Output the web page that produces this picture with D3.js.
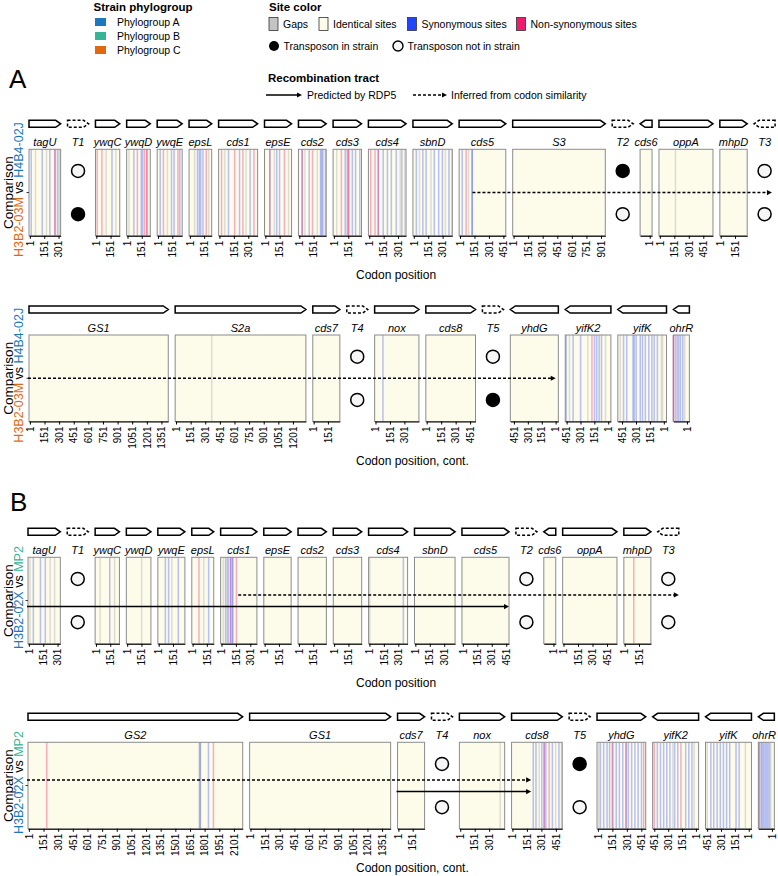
<!DOCTYPE html>
<html>
<head>
<meta charset="utf-8">
<script src="https://cdn.jsdelivr.net/npm/d3@7"></script>
<style>
  body { margin: 0; background: #fff; }
  svg { font-family: "Liberation Sans", Arial, sans-serif; }
</style>
</head>
<body>
<svg id="chart" width="778" height="876"></svg>
<script>
// ---- data (lengths in codons, 0 = transposon slot) ----
var rowA1Genes = ['tagU', 'T1', 'ywqC', 'ywqD', 'ywqE', 'epsL', 'cds1', 'epsE', 'cds2', 'cds3', 'cds4', 'sbnD', 'cds5', 'S3', 'T2', 'cds6', 'oppA', 'mhpD', 'T3']
var rowA1Lens = [323, 0, 248, 241, 255, 231, 398, 276, 283, 290, 384, 401, 476, 945, 0, 122, 551, 279, 0]
var rowA1Rev = ['cds6']

var rowA2Genes = ['GS1', 'S2a', 'cds7', 'T4', 'nox', 'cds8', 'T5', 'yhdG', 'yifK2', 'yifK', 'ohrR']
var rowA2Lens = [1421, 1334, 276, 0, 452, 507, 0, 490, 466, 497, 163]
var rowA2Rev = ['yhdG', 'yifK2', 'yifK', 'ohrR']

var rowB1Genes = ['tagU', 'T1', 'ywqC', 'ywqD', 'ywqE', 'epsL', 'cds1', 'epsE', 'cds2', 'cds3', 'cds4', 'sbnD', 'cds5', 'T2', 'cds6', 'oppA', 'mhpD', 'T3']
var rowB1Lens = [330, 0, 248, 251, 276, 224, 370, 279, 289, 290, 398, 414, 480, 0, 122, 554, 276, 0]
var rowB1Rev = ['cds6']

var rowB2Genes = ['GS2', 'GS1', 'cds7', 'T4', 'nox', 'cds8', 'T5', 'yhdG', 'yifK2', 'yifK', 'ohrR']
var rowB2Lens = [2191, 1439, 276, 0, 462, 517, 0, 497, 469, 469, 163]
var rowB2Rev = ['yifK2', 'yifK', 'ohrR']

var tnPointLeft = ['T3']

// transposon presence: [upper strain, lower strain]
var tnA1 = { T1: [0, 1], T2: [1, 0], T3: [0, 0] }
var tnA2 = { T4: [0, 0], T5: [0, 1] }
var tnB1 = { T1: [0, 0], T2: [0, 0], T3: [0, 0] }
var tnB2 = { T4: [0, 0], T5: [1, 0] }

// variable sites (codon positions)
var synA1 = { tagU: [15, 130, 210, 265, 290], ywqC: [166], ywqD: [68, 146, 160], ywqE: [24, 143, 170, 230], epsL: [81, 100, 115, 139], cds1: [95, 210, 320], epsE: [48, 120, 150], cds2: [31, 105, 224, 235, 248, 275], cds3: [119, 140, 194, 228, 272], cds4: [95, 146, 190, 231, 282, 340], sbnD: [27, 95, 129, 214, 260, 299, 367], cds5: [24, 126, 128] }
var nonA1 = { tagU: [262], ywqC: [10, 60], ywqD: [105, 180, 204, 207], ywqE: [58, 211], epsL: [173], cds1: [23, 159, 245, 360], epsE: [48, 201], cds2: [31, 139], cds3: [79, 153, 155], cds4: [16, 61, 95], cds5: [64] }
var gapA1 = { tagU: [60, 175, 305, 318], ywqC: [105, 207], ywqD: [16], ywqE: [100], epsL: [50, 200], cds1: [57, 279], epsE: [95, 245], cds2: [60, 190], cds3: [30], cds4: [323, 370], sbnD: [60, 180, 330, 400], cds5: [90], oppA: [163] }

var synA2 = { nox: [78], yifK2: [456, 381, 300, 150, 126, 99, 74], yifK: [435, 401, 333, 320, 299, 255, 231, 200, 163, 130, 105, 70], ohrR: [163, 119, 100, 79, 51] }
var nonA2 = { yifK2: [177], ohrR: [163, 140] }
var gapA2 = { S2a: [367], yifK2: [221, 420, 30], yifK: [27, 15, 470], ohrR: [28] }

var synB1 = { tagU: [48, 122, 173], ywqC: [146], ywqE: [71, 105, 207], epsL: [170], cds1: [44, 71, 95, 112, 120], cds4: [354] }
var nonB1 = { epsL: [68], cds1: [95, 156], mhpD: [96] }
var gapB1 = { tagU: [13, 224, 270], ywqC: [44, 197], ywqD: [153], ywqE: [139], epsL: [119], cds1: [20, 60], cds4: [4] }

var synB2 = { GS2: [1755, 1840], cds8: [217, 245, 306, 330, 347, 415, 483], yhdG: [27, 61, 96, 122, 157, 191, 224, 259, 293, 316, 351, 385, 418, 453], yifK2: [418, 384, 350, 316, 282, 231, 197, 112, 78, 44], yifK: [411, 380, 343, 309, 275, 241, 207, 139, 105], ohrR: [130, 116, 100, 82, 65, 48, 30] }
var nonB2 = { GS2: [184, 1891], cds8: [330, 381], yhdG: [150, 293, 476], yifK2: [452, 163], ohrR: [150, 155] }
var gapB2 = { GS2: [1745, 1750, 1760], nox: [415], cds8: [279, 449, 510], yhdG: [10], yifK2: [20, 250], yifK: [37, 450], ohrR: [14] }

// recombination tracts: [gene, codon] (for transposon slots: fraction of slot)
var tractsA1 = [{ type: 'inferred', from: ['cds5', 130], to: ['T3', 0.85] }]
var tractsA2 = [{ type: 'inferred', from: ['GS1', 0], to: ['yhdG', 0] }]
var tractsB1 = [{ type: 'rdp', from: ['tagU', 0], to: ['cds5', 480] }, { type: 'inferred', from: ['cds1', 175], to: ['T3', 1] }]
var tractsB2 = [{ type: 'inferred', from: ['GS2', 0], to: ['cds8', 195] }, { type: 'rdp', from: ['cds7', 0], to: ['cds8', 195] }]

var phyloNames = ['Phylogroup A', 'Phylogroup B', 'Phylogroup C']
var phyloColors = ['#1a78bd', '#35b596', '#e2680f']
var siteNames = ['Gaps', 'Identical sites', 'Synonymous sites', 'Non-synonymous sites']
var siteColors = ['#c4c4c4', '#fdfbea', '#2145ff', '#ee1c6e']

// ---- drawing ----
var svg = d3.select('#chart')
var k = 0.098
var gap = 6.9
var tnW = 21
var ph = 86.5

function layout (names, lens, rev, x0) {
  var items = []
  var x = x0
  names.forEach(function (n, i) {
    var tn = lens[i] === 0
    var w = tn ? tnW : lens[i] * k
    if (i > 0) x += gap
    var it = { name: n, len: lens[i], tn: tn, x0: x, x1: x + w, rev: rev.indexOf(n) >= 0 }
    if (!tn) {
      // small expansion before codon 1 (wider on reversed panels, as in the figure)
      var pad = it.rev ? 28 : 8
      it.scale = d3.scaleLinear().domain([-pad, lens[i]]).range(it.rev ? [x + w, x] : [x, x + w])
    }
    items.push(it)
    x += w
  })
  return items
}

function arrowPath (x0, x1, y0, h, left) {
  var tip = Math.min(5, (x1 - x0) / 2)
  if (!left) return 'M' + x0 + ',' + y0 + 'H' + (x1 - tip) + 'L' + x1 + ',' + (y0 + h / 2) + 'L' + (x1 - tip) + ',' + (y0 + h) + 'H' + x0 + 'Z'
  return 'M' + x1 + ',' + y0 + 'H' + (x0 + tip) + 'L' + x0 + ',' + (y0 + h / 2) + 'L' + (x0 + tip) + ',' + (y0 + h) + 'H' + x1 + 'Z'
}

function tractLine (g, xa, xb, yy, type) {
  g.append('line')
    .attr('x1', xa).attr('x2', xb - 4).attr('y1', yy).attr('y2', yy)
    .attr('stroke', '#000').attr('stroke-width', 1.5)
    .attr('stroke-dasharray', type === 'inferred' ? '3,2' : null)
  g.append('path')
    .attr('d', 'M' + xb + ',' + yy + 'L' + (xb - 5) + ',' + (yy - 2.6) + 'L' + (xb - 5) + ',' + (yy + 2.6) + 'Z')
    .attr('fill', '#000')
}

function drawRow (cfg) {
  var g = svg.append('g')
  var items = layout(cfg.genes, cfg.lens, cfg.rev, cfg.x0)
  var top = cfg.top
  var y = d3.scaleLinear().domain([0, 1]).range([top + ph, top])

  items.forEach(function (it) {
    var cx = (it.x0 + it.x1) / 2
    var left = it.tn ? tnPointLeft.indexOf(it.name) >= 0 : it.rev
    g.append('path')
      .attr('d', arrowPath(it.x0, it.x1, top - 29, 7, left))
      .attr('fill', '#fff').attr('stroke', '#000').attr('stroke-width', 1.5)
      .attr('stroke-dasharray', it.tn ? '3,2' : null)
    var lab = g.append('text')
      .attr('x', cx).attr('y', top - 3)
      .attr('text-anchor', 'middle')
      .style('font-style', 'italic').style('font-size', '11px')
      .text(it.name)
    var lw = lab.node().getComputedTextLength()
    if (cx + lw / 2 > 776) lab.attr('x', 776 - lw / 2)

    if (it.tn) {
      var pres = cfg.tn[it.name];
      [0.75, 0.25].forEach(function (v, j) {
        g.append('circle')
          .attr('cx', cx).attr('cy', y(v)).attr('r', 6.5)
          .attr('fill', pres[j] ? '#000' : '#f6f6f6')
          .attr('stroke', '#000').attr('stroke-width', 1.5)
      })
      return
    }

    g.append('rect')
      .attr('x', it.x0).attr('y', top)
      .attr('width', it.x1 - it.x0).attr('height', ph)
      .attr('fill', siteColors[1])

    var sets = [[cfg.gaps, '#b0b0b0', 0.4], [cfg.syn, siteColors[2], 0.32], [cfg.non, siteColors[3], 0.35]]
    sets.forEach(function (s) {
      var list = s[0][it.name] || []
      g.selectAll(null).data(list).enter().append('rect')
        .attr('x', function (d) { return it.scale(d) - 0.75 })
        .attr('y', top).attr('width', 1.5).attr('height', ph)
        .attr('fill', s[1]).attr('opacity', s[2])
    })

    g.append('rect')
      .attr('x', it.x0).attr('y', top)
      .attr('width', it.x1 - it.x0).attr('height', ph)
      .attr('fill', 'none').attr('stroke', '#8c8c8c').attr('stroke-width', 1)

    var ticks = d3.range(1, it.len - 14, 150)
    var ax = g.append('g')
      .attr('transform', 'translate(0,' + (top + ph) + ')')
      .call(d3.axisBottom(it.scale).tickValues(ticks).tickSize(3).tickSizeOuter(0).tickFormat(d3.format('d')))
    ax.attr('font-family', null).attr('font-size', 10)
    ax.select('.domain').attr('stroke', '#000')
    ax.selectAll('text')
      .attr('transform', 'rotate(-90)')
      .attr('x', -5).attr('y', 0).attr('dy', '0.32em')
      .attr('text-anchor', 'end')
      .attr('fill', '#000')
  })

  // small y tick on the first panel
  g.append('line')
    .attr('x1', items[0].x0 - 2.5).attr('x2', items[0].x0)
    .attr('y1', y(0.5)).attr('y2', y(0.5))
    .attr('stroke', '#333').attr('stroke-width', 1)

  function posOf (ref) {
    var it = items.find(function (d) { return d.name === ref[0] })
    if (it.tn) return it.x0 + ref[1] * (it.x1 - it.x0)
    return it.scale(ref[1])
  }
  cfg.tracts.forEach(function (t) {
    var lvl = cfg.tracts.length === 1 ? 0.5 : (t.type === 'inferred' ? 0.565 : 0.43)
    var xa = posOf(t.from)
    var fromItem = items.find(function (d) { return d.name === t.from[0] })
    if (t.from[1] === 0 && !fromItem.rev) xa = fromItem.x0 - 1
    tractLine(g, xa, posOf(t.to), y(lvl), t.type)
  })

  // y axis title
  var midY = top + ph / 2
  g.append('text')
    .attr('transform', 'translate(12.5,' + midY + ') rotate(-90)')
    .attr('text-anchor', 'middle').style('font-size', '13.5px')
    .text('Comparison')
  var t2 = g.append('text')
    .attr('transform', 'translate(23,' + (midY - 3) + ') rotate(-90)')
    .attr('text-anchor', 'middle').style('font-size', '12.5px')
  t2.append('tspan').attr('fill', cfg.strains[0][1]).text(cfg.strains[0][0])
  t2.append('tspan').attr('fill', '#000').text(' vs ')
  t2.append('tspan').attr('fill', cfg.strains[1][1]).text(cfg.strains[1][0])

  // x axis title
  g.append('text')
    .attr('x', 356).attr('y', top + ph + 43)
    .style('font-size', '12px')
    .text(cfg.xTitle)
}

drawRow({ genes: rowA1Genes, lens: rowA1Lens, rev: rowA1Rev, x0: 29, top: 149.3, tn: tnA1, syn: synA1, non: nonA1, gaps: gapA1, tracts: tractsA1, strains: [['H3B2-03M', phyloColors[2]], ['H4B4-02J', phyloColors[0]]], xTitle: 'Codon position' })
drawRow({ genes: rowA2Genes, lens: rowA2Lens, rev: rowA2Rev, x0: 29, top: 335, tn: tnA2, syn: synA2, non: nonA2, gaps: gapA2, tracts: tractsA2, strains: [['H3B2-03M', phyloColors[2]], ['H4B4-02J', phyloColors[0]]], xTitle: 'Codon position, cont.' })
drawRow({ genes: rowB1Genes, lens: rowB1Lens, rev: rowB1Rev, x0: 28, top: 557.3, tn: tnB1, syn: synB1, non: nonB1, gaps: gapB1, tracts: tractsB1, strains: [['H3B2-02X', phyloColors[0]], ['MP2', phyloColors[1]]], xTitle: 'Codon position' })
drawRow({ genes: rowB2Genes, lens: rowB2Lens, rev: rowB2Rev, x0: 28, top: 742.3, tn: tnB2, syn: synB2, non: nonB2, gaps: gapB2, tracts: tractsB2, strains: [['H3B2-02X', phyloColors[0]], ['MP2', phyloColors[1]]], xTitle: 'Codon position, cont.' })

// panel letters
svg.append('text').attr('x', 9).attr('y', 88).style('font-size', '26px').text('A')
svg.append('text').attr('x', 10).attr('y', 511).style('font-size', '26px').text('B')

// ---- legends ----
var lg = svg.append('g').style('font-size', '10.5px')
lg.append('text').attr('x', 93.5).attr('y', 11).style('font-weight', 'bold').style('font-size', '11.5px').text('Strain phylogroup')
phyloNames.forEach(function (n, i) {
  var cy = 22 + i * 14
  lg.append('rect').attr('x', 95).attr('y', cy - 4).attr('width', 11).attr('height', 8).attr('fill', phyloColors[i])
  lg.append('text').attr('x', 117).attr('y', cy).attr('dy', '0.35em').text(n)
})

var siteX = [269, 319, 407.5, 516.5]
lg.append('text').attr('x', 269).attr('y', 11).style('font-weight', 'bold').style('font-size', '11.5px').text('Site color')
siteNames.forEach(function (n, i) {
  lg.append('rect').attr('x', siteX[i]).attr('y', 17.5).attr('width', 9).attr('height', 13)
    .attr('fill', siteColors[i]).attr('stroke', '#333').attr('stroke-width', 0.8)
  lg.append('text').attr('x', siteX[i] + 14).attr('y', 24).attr('dy', '0.35em').text(n)
})
lg.append('circle').attr('cx', 274).attr('cy', 46).attr('r', 5).attr('fill', '#000')
lg.append('text').attr('x', 283.5).attr('y', 46).attr('dy', '0.35em').text('Transposon in strain')
lg.append('circle').attr('cx', 398).attr('cy', 46).attr('r', 5).attr('fill', '#f6f6f6').attr('stroke', '#000').attr('stroke-width', 1.4)
lg.append('text').attr('x', 407.5).attr('y', 46).attr('dy', '0.35em').text('Transposon not in strain')

lg.append('text').attr('x', 268).attr('y', 82).style('font-weight', 'bold').style('font-size', '11.5px').text('Recombination tract')
tractLine(lg, 266, 302, 95, 'rdp')
lg.append('text').attr('x', 307).attr('y', 95).attr('dy', '0.35em').text('Predicted by RDP5')
tractLine(lg, 413, 447, 95, 'inferred')
lg.append('text').attr('x', 451).attr('y', 95).attr('dy', '0.35em').text('Inferred from codon similarity')
</script>
</body>
</html>
